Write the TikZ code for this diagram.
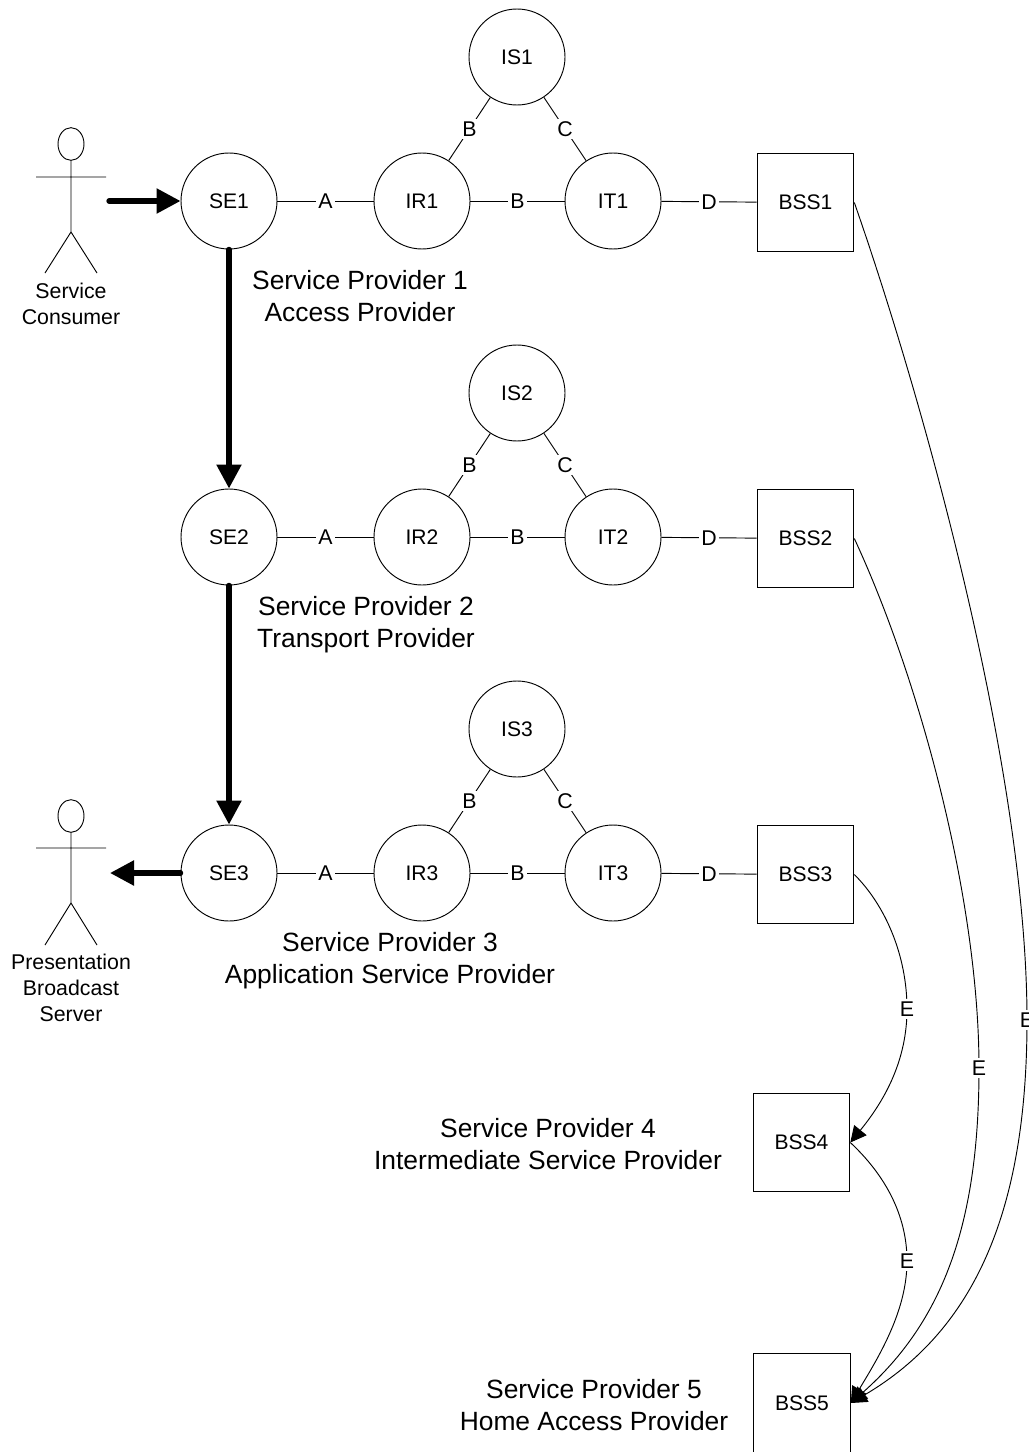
\documentclass[tikz,border=0pt]{standalone}
\usepackage{fontspec}
\setmainfont{Liberation Sans}
\usetikzlibrary{arrows.meta,backgrounds,shapes.geometric}

\tikzset{
  element/.style={circle, draw, line width=0.7pt, minimum size=72pt, inner sep=0pt, font=\fontsize{15.8}{18}\selectfont},
  bss/.style={rectangle, draw, line width=0.7pt, minimum width=72.5pt, minimum height=74pt, inner sep=0pt, font=\fontsize{15.8}{18}\selectfont},
  head/.style={ellipse, draw, line width=0.7pt, minimum width=19.5pt, minimum height=24.5pt, inner sep=0pt},
  actorname/.style={align=center, font=\fontsize{16}{19.5}\selectfont},
  provider/.style={align=center, font=\fontsize{19.8}{24}\selectfont},
  link/.style={line width=0.7pt},
  tag/.style={fill=white, inner sep=2pt, font=\fontsize{16}{18}\selectfont},
  message/.style={line width=0.7pt, -{Triangle[length=12pt,width=12pt]}},
  media/.style={line width=4pt, line cap=round, -{Triangle[length=18pt,width=18pt]}}
}

\begin{document}
\begin{tikzpicture}[x=0.75pt, y=-0.75pt]
  \useasboundingbox (0,0) rectangle (1028,1452);

  \node[element] (SE1) at (229,201) {SE1};
  \node[element] (IR1) at (422,201) {IR1};
  \node[element] (IT1) at (613,201) {IT1};
  \node[element] (IS1) at (517,57) {IS1};
  \node[bss] (BSS1) at (805.5,202.5) {BSS1};

  \node[element] (SE2) at (229,537) {SE2};
  \node[element] (IR2) at (422,537) {IR2};
  \node[element] (IT2) at (613,537) {IT2};
  \node[element] (IS2) at (517,393) {IS2};
  \node[bss] (BSS2) at (805.5,538.5) {BSS2};

  \node[element] (SE3) at (229,873) {SE3};
  \node[element] (IR3) at (422,873) {IR3};
  \node[element] (IT3) at (613,873) {IT3};
  \node[element] (IS3) at (517,729) {IS3};
  \node[bss] (BSS3) at (805.5,874.5) {BSS3};

  \node[bss] (BSS4) at (801.5,1142.5) {BSS4};
  \node[bss] (BSS5) at (802,1403) {BSS5};

  \node[provider] (sp1) at (360,296) {Service Provider 1\\Access Provider};
  \node[provider] (sp2) at (366,625) {Service Provider 2\\Transport Provider};
  \node[provider] (sp3) at (390,961) {Service Provider 3\\Application Service Provider};
  \node[provider] (sp4) at (548,1144) {Service Provider 4\\Intermediate Service Provider};
  \node[provider] (sp5) at (594,1405) {Service Provider 5\\Home Access Provider};

  \node[head] (head1) at (71,144) {};
  \coordinate (armL1) at (36,177);
  \coordinate (armR1) at (106,177);
  \coordinate (hip1) at (71,232);
  \coordinate (footL1) at (45,273);
  \coordinate (footR1) at (97,273);
  \node[actorname] (consumer) at (71,304) {Service\\Consumer};

  \node[head] (head2) at (71,816) {};
  \coordinate (armL2) at (36,848);
  \coordinate (armR2) at (106,848);
  \coordinate (hip2) at (71,903);
  \coordinate (footL2) at (45,945);
  \coordinate (footR2) at (97,945);
  \node[actorname] (server) at (71,988) {Presentation\\Broadcast\\Server};

  \coordinate (fromconsumer) at (109,201);
  \coordinate (toserver) at (110,873);

  \node[tag] (E1) at (1027,1020) {E};
  \node[tag] (E2) at (979,1068) {E};
  \node[tag] (E3) at (907,1009) {E};
  \node[tag] (E4) at (907,1261) {E};

  \draw[link] (head1) -- (hip1) -- (footL1) (hip1) -- (footR1) (armL1) -- (armR1);
  \draw[link] (head2) -- (hip2) -- (footL2) (hip2) -- (footR2) (armL2) -- (armR2);

  \begin{pgfonlayer}{background}
    \draw[link] (SE1) -- node[tag] {A} (IR1);
    \draw[link] (IR1) -- node[tag] {B} (IT1);
    \draw[link] (IS1) -- node[tag] {B} (IR1);
    \draw[link] (IS1) -- node[tag] {C} (IT1);
    \draw[link] (IT1) -- node[tag] {D} (BSS1);

    \draw[link] (SE2) -- node[tag] {A} (IR2);
    \draw[link] (IR2) -- node[tag] {B} (IT2);
    \draw[link] (IS2) -- node[tag] {B} (IR2);
    \draw[link] (IS2) -- node[tag] {C} (IT2);
    \draw[link] (IT2) -- node[tag] {D} (BSS2);

    \draw[link] (SE3) -- node[tag] {A} (IR3);
    \draw[link] (IR3) -- node[tag] {B} (IT3);
    \draw[link] (IS3) -- node[tag] {B} (IR3);
    \draw[link] (IS3) -- node[tag] {C} (IT3);
    \draw[link] (IT3) -- node[tag] {D} (BSS3);

    \draw[message] (BSS1.east) .. controls (930,420) and (1027,780) .. (E1.center) .. controls (1027,1210) and (975,1330) .. (BSS5.east);
    \draw[message] (BSS2.east) .. controls (920,680) and (979,900) .. (E2.center) .. controls (979,1220) and (945,1320) .. (BSS5.east);
    \draw[message] (BSS3.east) .. controls (885,905) and (907,955) .. (E3.center) .. controls (907,1060) and (885,1100) .. (BSS4.east);
    \draw[message] (BSS4.east) .. controls (885,1175) and (907,1215) .. (E4.center) .. controls (907,1310) and (880,1355) .. (BSS5.east);
  \end{pgfonlayer}

  \draw[media] (fromconsumer) -- (SE1);
  \draw[media] (SE1) -- (SE2);
  \draw[media] (SE2) -- (SE3);
  \draw[media] (SE3) -- (toserver);
\end{tikzpicture}
\end{document}
